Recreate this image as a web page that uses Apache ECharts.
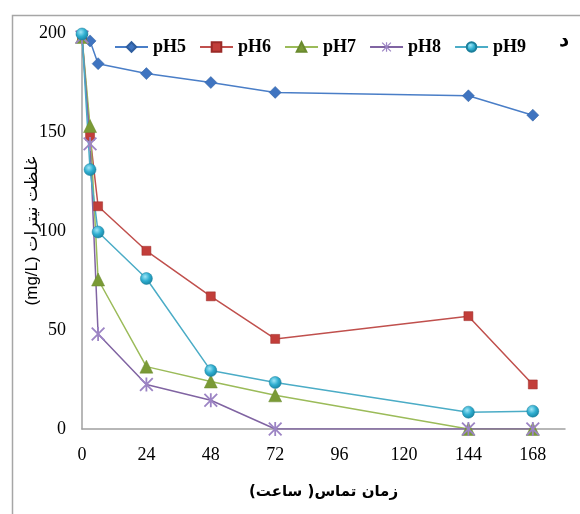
<!DOCTYPE html>
<html>
<head>
<meta charset="utf-8">
<script src="https://cdn.jsdelivr.net/npm/echarts@6/dist/echarts.min.js"></script>
<style>
html,body{margin:0;padding:0;background:#fff;}
#c{width:580px;height:514px;}
</style>
</head>
<body>
<div id="c"></div>
<script>
// ---- data ----
const hours = [0, 3, 6, 24, 48, 72, 144, 168];
const pH5 = [199, 196, 184.5, 179.5, 175, 170, 168.3, 158.5];
const pH6 = [198, 148, 112.5, 90, 67, 45.5, 57, 22.5];
const pH7 = [198, 153, 75.5, 31.5, 24, 17, 0, 0];
const pH8 = [198, 144, 48, 22.5, 14.5, 0, 0, 0];
const pH9 = [199.5, 131, 99.5, 76, 29.5, 23.5, 8.5, 9];
const seriesNames = ['pH5', 'pH6', 'pH7', 'pH8', 'pH9'];
const xTicks = [0, 24, 48, 72, 96, 120, 144, 168];
const yTicks = [0, 50, 100, 150, 200];
// visual (left-to-right) order of the right-to-left title "زمان تماس( ساعت)"
const xTitleWords = ['(', 'ساعت', ' ', ')', 'تماس', ' ', 'زمان'];
const yTitle = '(mg/L) غلظت نیترات';
const panelLetter = 'د';

function pairs(vals){ return hours.map((h,i)=>[h, vals[i]]); }

const starPath = 'path://M3.18,3.89 L3.89,3.18 L-3.18,-3.89 L-3.89,-3.18 Z ' +
  'M3.89,-3.18 L3.18,-3.89 L-3.89,3.18 L-3.18,3.89 Z ' +
  'M-0.5,-3.9 L-0.5,3.9 L0.5,3.9 L0.5,-3.9 Z';

const serif = '"Liberation Serif","Times New Roman",serif';

const styles = [
  {line:'#4A7EC7', symbol:'diamond', size:12, item:{color:'#3F74C0', borderColor:'#2F5E9F', borderWidth:0.5}},
  {line:'#C0504D', symbol:'rect', size:9, item:{color:'#C23E3A', borderColor:'#9A2A27', borderWidth:0.5}},
  {line:'#9BBB59', symbol:'triangle', size:13, item:{color:'#7A9A36', borderColor:'#6A8A2E', borderWidth:0.5}},
  {line:'#8064A2', symbol:starPath, size:14, item:{color:'#9C84C4'}},
  {line:'#4BACC6', symbol:'circle', size:12, item:{
    color:{type:'radial', x:0.4, y:0.35, r:0.7, colorStops:[
      {offset:0, color:'#9FE6F7'}, {offset:0.5, color:'#2FAED0'}, {offset:1, color:'#16809E'}]},
    borderColor:'#1B7F9B', borderWidth:0.5}}
];
const datas = [pH5, pH6, pH7, pH8, pH9];

const xTitleRich = xTitleWords.map(w => '{w|' + w + '}').join('');

const chart = echarts.init(document.getElementById('c'), null, {renderer:'canvas'});
chart.setOption({
  animation:false,
  backgroundColor:'#fff',
  grid:{left:82, right:15, top:33, bottom:85, containLabel:false},
  legend:{
    left:109, top:33, itemWidth:33, itemHeight:12, itemGap:13,
    data:seriesNames,
    textStyle:{fontFamily:serif, fontSize:18, fontWeight:'bold', color:'#000'}
  },
  xAxis:{
    type:'value', min:0, max:180, interval:24,
    axisLine:{show:true, lineStyle:{color:'#A0A0A0', width:1.5}},
    axisTick:{show:false}, splitLine:{show:false},
    axisLabel:{margin:17, fontFamily:serif, fontSize:18, color:'#000', showMaxLabel:false,
      formatter:v => xTicks.indexOf(v) >= 0 ? String(v) : ''},
    name:xTitleRich, nameLocation:'middle', nameGap:56, nameMoveOverlap:false,
    nameTextStyle:{
      rich:{w:{fontFamily:'"DejaVu Sans",sans-serif', fontSize:15, fontWeight:'bold', color:'#000'}}
    }
  },
  yAxis:{
    type:'value', min:0, max:200, interval:50,
    axisLine:{show:true, lineStyle:{color:'#A0A0A0', width:1.5}},
    axisTick:{show:false}, splitLine:{show:false},
    axisLabel:{margin:16, fontFamily:serif, fontSize:18, color:'#000',
      formatter:v => yTicks.indexOf(v) >= 0 ? String(v) : ''},
    name:yTitle, nameLocation:'middle', nameGap:41, nameRotate:90, nameMoveOverlap:false,
    nameTextStyle:{fontFamily:'"Liberation Sans","DejaVu Sans",sans-serif', fontSize:17, color:'#000'}
  },
  graphic:[
    {type:'rect', silent:true, z:-1, shape:{x:12.5, y:15.5, width:700, height:700},
      style:{fill:'none', stroke:'#A6A6A6', lineWidth:1.5}},
    {type:'text', left:559, top:31, style:{text:panelLetter, font:'bold 20px "DejaVu Sans",sans-serif', fill:'#000'}}
  ],
  series: seriesNames.map((n,i)=>({
    name:n, type:'line', data:pairs(datas[i]),
    symbol:styles[i].symbol, symbolSize:styles[i].size, showAllSymbol:true,
    lineStyle:{color:styles[i].line, width:1.5},
    itemStyle:styles[i].item,
    color:styles[i].line
  }))
});
</script>
</body>
</html>
